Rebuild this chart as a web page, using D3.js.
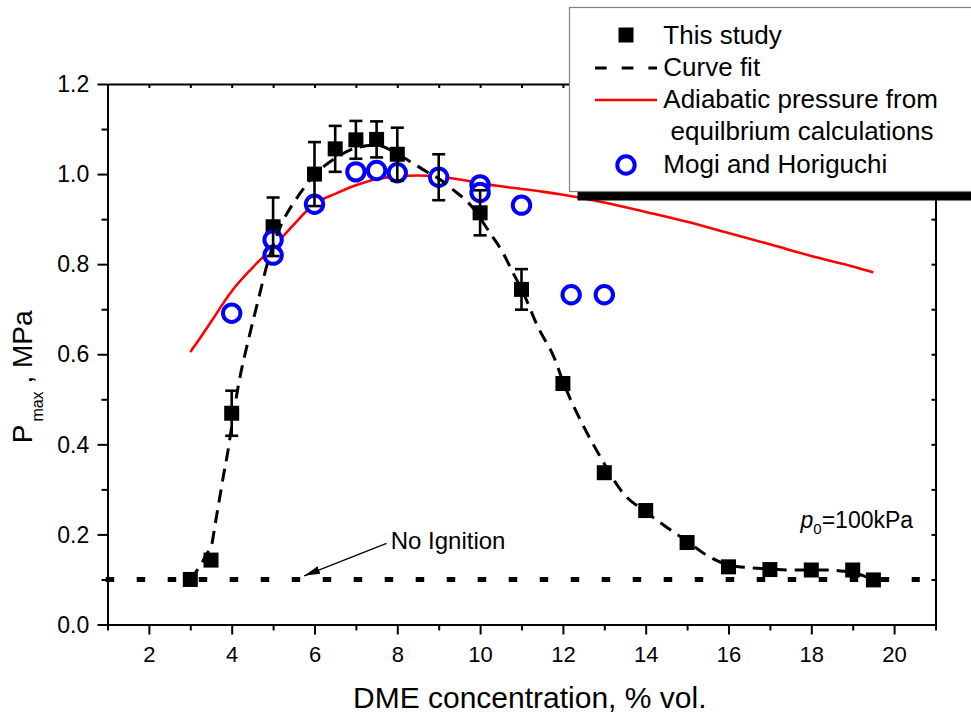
<!DOCTYPE html>
<html>
<head>
<meta charset="utf-8">
<script src="https://cdn.jsdelivr.net/npm/d3@7"></script>
<style>
  html, body { margin: 0; padding: 0; background: #fff; }
  svg { display: block; font-family: Arial, "Liberation Sans", sans-serif; }
</style>
</head>
<body>
<svg id="chart" width="971" height="718"></svg>
<script>
// ---- data ---------------------------------------------------------------
// Measured maximum explosion pressure (this study), with error bars
const studyX   = [3, 3.5, 4, 5, 6, 6.5, 7, 7.5, 8, 9, 10, 11, 12, 13, 14, 15, 16, 17, 18, 19, 19.5];
const studyP   = [0.100, 0.143, 0.469, 0.883, 1.000, 1.056, 1.076, 1.077, 1.044, 0.993, 0.914, 0.744, 0.535, 0.337, 0.253, 0.182, 0.128, 0.122, 0.121, 0.121, 0.099];
const studyErr = [0, 0.012, 0.050, 0.065, 0.071, 0.051, 0.042, 0.040, 0.059, 0.051, 0.050, 0.045, 0.012, 0, 0, 0, 0, 0, 0, 0.008, 0];

// Curve fit through the measurements
const fitX = [3.0, 3.14, 3.3, 3.42, 3.5, 3.6, 3.7, 3.8, 3.9, 4.0, 4.15, 4.44, 4.64, 4.84, 5.05, 5.25, 5.45, 5.65, 5.89, 6.2, 6.5, 7.0, 7.5, 8.0, 8.38, 8.71, 9.0, 9.31, 9.8, 10.24, 10.56, 10.8, 11.0, 11.4, 11.8, 12.0, 12.5, 12.9, 13.46, 14.0, 14.43, 15.0, 15.47, 16.0, 16.5, 17.0, 17.5, 18.4, 18.8, 19.3, 19.5];
const fitP = [0.100, 0.117, 0.140, 0.160, 0.171, 0.222, 0.276, 0.330, 0.380, 0.440, 0.525, 0.646, 0.720, 0.794, 0.855, 0.898, 0.930, 0.957, 0.987, 1.015, 1.035, 1.058, 1.064, 1.045, 1.024, 1.005, 0.990, 0.968, 0.928, 0.869, 0.824, 0.780, 0.745, 0.660, 0.590, 0.540, 0.440, 0.373, 0.291, 0.250, 0.221, 0.185, 0.154, 0.132, 0.126, 0.123, 0.121, 0.121, 0.118, 0.107, 0.100];

// Adiabatic pressure from equilibrium calculations
const adiaX = [3, 3.25, 3.5, 4, 4.5, 5, 5.5, 6, 6.5, 7, 7.5, 8, 8.5, 9, 9.5, 10, 10.5, 11, 11.5, 12, 12.5, 13, 14, 15, 16, 17, 18, 19, 19.5];
const adiaP = [0.605, 0.638, 0.672, 0.740, 0.792, 0.838, 0.888, 0.934, 0.956, 0.975, 0.989, 0.995, 0.997, 0.994, 0.988, 0.980, 0.973, 0.967, 0.961, 0.954, 0.946, 0.937, 0.916, 0.894, 0.869, 0.844, 0.818, 0.795, 0.782];

// Mogi and Horiguchi
const mogiX = [4, 5, 5, 6, 7, 7.5, 8, 9, 10, 10, 11, 12.2, 13];
const mogiP = [0.691, 0.854, 0.820, 0.933, 1.005, 1.008, 1.003, 0.993, 0.976, 0.959, 0.931, 0.732, 0.732];

// Axis ticks
const xMajorTicks = [2, 4, 6, 8, 10, 12, 14, 16, 18, 20];
const xMinorTicks = [1, 3, 5, 7, 9, 11, 13, 15, 17, 19, 21];
const yMajorTicks = [0.0, 0.2, 0.4, 0.6, 0.8, 1.0, 1.2];
const yMinorTicks = [0.1, 0.3, 0.5, 0.7, 0.9, 1.1];

// Ignition threshold (initial pressure) and legend texts
const noIgnitionLevel = 0.1;
const legendLabels = ["This study", "Curve fit", "Adiabatic pressure from", " equilbrium calculations", "Mogi and Horiguchi"];

// ---- layout -------------------------------------------------------------
const svg = d3.select("#chart");
const FONT = 'Arial, "Liberation Sans", sans-serif';

const x = d3.scaleLinear().domain([1, 21]).range([107.5, 935.5]);
const y = d3.scaleLinear().domain([0, 1.2]).range([624.5, 84]);

const toPts = (xs, ys) => xs.map((v, i) => [v, ys[i]]);
const smoothLine = d3.line().x(d => x(d[0])).y(d => y(d[1])).curve(d3.curveMonotoneX);

// ---- axes ---------------------------------------------------------------
function styleAxis(g) {
  g.attr("font-family", FONT);
  g.selectAll("path.domain").attr("stroke", "#000").attr("stroke-width", 2);
  g.selectAll(".tick line").attr("stroke", "#000").attr("stroke-width", 2);
}

// bottom
svg.append("g").attr("transform", `translate(0,${y(0)})`)
  .call(d3.axisBottom(x).tickValues(xMinorTicks).tickSize(6).tickSizeOuter(0).tickFormat(""))
  .call(styleAxis);
const xAxisG = svg.append("g").attr("transform", `translate(0,${y(0)})`)
  .call(d3.axisBottom(x).tickValues(xMajorTicks).tickSize(10).tickSizeOuter(0).tickFormat(d3.format("d")))
  .call(styleAxis);
xAxisG.selectAll("text").attr("font-size", 22).attr("fill", "#000").attr("y", 37.2).attr("dy", null);

// left
svg.append("g").attr("transform", `translate(${x(1)},0)`)
  .call(d3.axisLeft(y).tickValues(yMinorTicks).tickSize(6).tickSizeOuter(0).tickFormat(""))
  .call(styleAxis);
const yAxisG = svg.append("g").attr("transform", `translate(${x(1)},0)`)
  .call(d3.axisLeft(y).tickValues(yMajorTicks).tickSize(10).tickSizeOuter(0).tickFormat(d3.format(".1f")))
  .call(styleAxis);
yAxisG.selectAll("text").attr("font-size", 23).attr("fill", "#000").attr("x", -18.2).attr("dy", "0.335em");

// top (inward ticks)
svg.append("g").attr("transform", `translate(0,${y(1.2)})`)
  .call(d3.axisTop(x).tickValues(xMajorTicks.concat(xMinorTicks)).tickSizeInner(-4).tickSizeOuter(0).tickFormat(""))
  .call(styleAxis);
// right (inward ticks)
svg.append("g").attr("transform", `translate(${x(21)},0)`)
  .call(d3.axisRight(y).tickValues(yMajorTicks.concat(yMinorTicks)).tickSizeInner(-4).tickSizeOuter(0).tickFormat(""))
  .call(styleAxis);

// ---- series -------------------------------------------------------------
const plot = svg.append("g");

// adiabatic pressure
plot.append("path")
  .datum(toPts(adiaX, adiaP))
  .attr("d", smoothLine)
  .attr("fill", "none").attr("stroke", "#ff0000").attr("stroke-width", 2.6);

// measured points
const SQ = 15;
plot.selectAll("rect.study")
  .data(toPts(studyX, studyP))
  .join("rect").attr("class", "study")
  .attr("x", d => x(d[0]) - SQ / 2).attr("y", d => y(d[1]) - SQ / 2)
  .attr("width", SQ).attr("height", SQ).attr("fill", "#000");

// Mogi and Horiguchi
plot.selectAll("circle.mogi")
  .data(toPts(mogiX, mogiP))
  .join("circle").attr("class", "mogi")
  .attr("cx", d => x(d[0])).attr("cy", d => y(d[1])).attr("r", 8.7)
  .attr("fill", "#fff").attr("stroke", "#0000ff").attr("stroke-width", 4);

// error bars
const errData = studyX.map((v, i) => ({ x: v, p: studyP[i], e: studyErr[i] })).filter(d => d.e > 0);
const eb = plot.selectAll("g.err").data(errData).join("g").attr("class", "err")
  .attr("stroke", "#000").attr("stroke-width", 2.6);
eb.append("line")
  .attr("x1", d => x(d.x)).attr("x2", d => x(d.x))
  .attr("y1", d => y(d.p + d.e)).attr("y2", d => y(d.p - d.e));
eb.append("line")
  .attr("x1", d => x(d.x) - 6.5).attr("x2", d => x(d.x) + 6.5)
  .attr("y1", d => y(d.p + d.e)).attr("y2", d => y(d.p + d.e));
eb.append("line")
  .attr("x1", d => x(d.x) - 6.5).attr("x2", d => x(d.x) + 6.5)
  .attr("y1", d => y(d.p - d.e)).attr("y2", d => y(d.p - d.e));

// curve fit
plot.append("path")
  .datum(toPts(fitX, fitP))
  .attr("d", smoothLine)
  .attr("fill", "none").attr("stroke", "#000").attr("stroke-width", 3)
  .attr("stroke-dasharray", "13,8");

// no-ignition level
plot.append("line")
  .attr("x1", x(0.957)).attr("x2", x(20.62))
  .attr("y1", y(noIgnitionLevel)).attr("y2", y(noIgnitionLevel))
  .attr("stroke", "#000").attr("stroke-width", 5).attr("stroke-dasharray", "8.5,22.5");

// ---- annotations --------------------------------------------------------
const defs = svg.append("defs");
defs.append("marker").attr("id", "arrowHead")
  .attr("viewBox", "0 0 16 8").attr("refX", 16).attr("refY", 4)
  .attr("markerWidth", 16).attr("markerHeight", 8).attr("markerUnits", "userSpaceOnUse")
  .attr("orient", "auto")
  .append("path").attr("d", "M0,0 L16,4 L0,8 Z").attr("fill", "#000");

svg.append("line")
  .attr("x1", x(7.74)).attr("y1", y(0.180))
  .attr("x2", x(5.75)).attr("y2", y(0.108))
  .attr("stroke", "#000").attr("stroke-width", 1.2)
  .attr("marker-end", "url(#arrowHead)");
svg.append("text")
  .attr("x", x(7.84)).attr("y", y(0.167))
  .attr("font-family", FONT).attr("font-size", 24).attr("fill", "#000")
  .text("No Ignition");

const p0 = svg.append("text")
  .attr("x", x(17.74)).attr("y", y(0.2136))
  .attr("font-family", FONT).attr("font-size", 23).attr("fill", "#000");
p0.append("tspan").attr("font-style", "italic").text("p");
p0.append("tspan").attr("font-size", 15).attr("dy", 6).text("0");
p0.append("tspan").attr("dy", -6).text("=100kPa");

// axis titles
svg.append("text")
  .attr("x", 353).attr("y", 708)
  .attr("font-family", FONT).attr("font-size", 30).attr("fill", "#000")
  .text("DME concentration, % vol.");

const yTitle = svg.append("text")
  .attr("transform", "translate(31.7,443.3) rotate(-90)")
  .attr("font-family", FONT).attr("font-size", 28).attr("fill", "#000");
yTitle.append("tspan").text("P");
yTitle.append("tspan").attr("font-size", 16).attr("dx", 3).attr("dy", 11).text("max");
yTitle.append("tspan").attr("dy", -11).text(" , MPa");

// ---- legend -------------------------------------------------------------
const leg = svg.append("g");
leg.append("rect").attr("x", 577.5).attr("y", 15.5).attr("width", 420).attr("height", 185).attr("fill", "#000");
leg.append("rect").attr("x", 569.5).attr("y", 7.5).attr("width", 420).attr("height", 184)
  .attr("fill", "#fff").attr("stroke", "#808080").attr("stroke-width", 1.2);

const rowY = [35, 68, 100, 132, 165];
leg.append("rect").attr("x", 626 - SQ / 2).attr("y", rowY[0] - SQ / 2).attr("width", SQ).attr("height", SQ).attr("fill", "#000");
leg.append("line").attr("x1", 595).attr("x2", 657).attr("y1", rowY[1]).attr("y2", rowY[1])
  .attr("stroke", "#000").attr("stroke-width", 3).attr("stroke-dasharray", "11.7,15");
leg.append("line").attr("x1", 595).attr("x2", 657).attr("y1", rowY[2]).attr("y2", rowY[2])
  .attr("stroke", "#ff0000").attr("stroke-width", 2.6);
leg.append("circle").attr("cx", 626).attr("cy", rowY[4]).attr("r", 8.7)
  .attr("fill", "#fff").attr("stroke", "#0000ff").attr("stroke-width", 4);

const baseY = [44, 76, 108.3, 140, 173.3];
leg.selectAll("text.lbl").data(legendLabels).join("text").attr("class", "lbl")
  .attr("x", 663.3).attr("y", (d, i) => baseY[i])
  .attr("font-family", FONT).attr("font-size", 26).attr("fill", "#000")
  .attr("xml:space", "preserve").style("white-space", "pre")
  .text(d => d);
</script>
</body>
</html>
